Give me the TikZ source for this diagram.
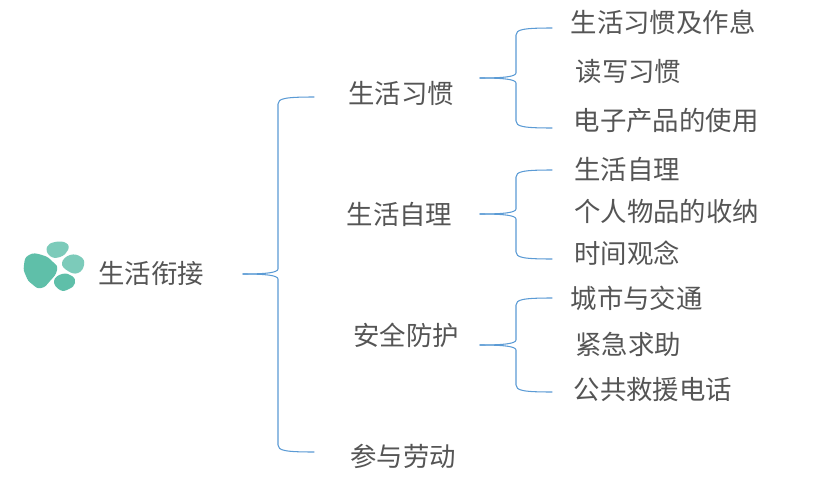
\documentclass[tikz,border=0pt]{standalone}
\usepackage{fontspec}
\setmainfont{Noto Sans CJK SC}
\usetikzlibrary{calc}
\definecolor{txt}{HTML}{555555}
\definecolor{link}{HTML}{5B9BD5}
\definecolor{blob}{HTML}{5FBFA9}
\definecolor{bloblight}{HTML}{7CCBBA}
\tikzset{
  label/.style={anchor=base west,inner sep=0pt,text=txt,font=\fontsize{26.4}{30}\selectfont},
  conn/.style={draw=link,line width=1.05pt,line cap=round},
}
% stem point #1, branch end #2, spine offset #3
\newcommand{\branchto}[3]{%
  \draw[conn] let \p1=(#1),\p2=(#2),\n1={\x1+#3},\n2={(\y2>\y1?1:-1)} in
    (#1) .. controls (\x1+#3*0.7,\y1) and (\n1-0.5pt,\y1+\n2*1.5pt) .. (\n1,\y1+\n2*5pt)
    -- (\n1,\y2-\n2*7pt)
    .. controls (\n1,\y2-\n2*1.5pt) and (\n1+#3*0.2,\y2) .. (#2);}
\begin{document}
\begin{tikzpicture}[x=1pt,y=-1pt]
\useasboundingbox[fill=white] (0,0) rectangle (814,493);
% icon
\fill[blob] plot[smooth cycle,tension=0.9] coordinates {(24,265) (29,255) (42,255) (53,262) (57,270) (50,281) (41,288) (32,284) (26,276)};
\fill[bloblight] plot[smooth cycle,tension=0.8] coordinates {(47,247) (55,242) (66,243) (68,250) (60,257) (50,256)};
\fill[bloblight] plot[smooth cycle,tension=0.8] coordinates {(62,263) (70,255) (81,257) (84,265) (78,273) (68,271)};
\fill[blob] plot[smooth cycle,tension=0.8] coordinates {(54,281) (62,274) (72,276) (75,283) (69,289) (60,290)};
% texts
\node[label] (root) at (98,283) {生活衔接};
\node[label] (a) at (348,103) {生活习惯};
\node[label] (b) at (346.5,224) {生活自理};
\node[label] (c) at (353,345) {安全防护};
\node[label] (d) at (350,466) {参与劳动};
\node[label] (a1) at (570.5,32) {生活习惯及作息};
\node[label] (a2) at (575.5,81) {读写习惯};
\node[label] (a3) at (573.5,130) {电子产品的使用};
\node[label] (b1) at (574,179) {生活自理};
\node[label] (b2) at (574,221) {个人物品的收纳};
\node[label] (b3) at (574,263) {时间观念};
\node[label] (c1) at (570.5,308) {城市与交通};
\node[label] (c2) at (575,354) {紧急求助};
\node[label] (c3) at (573.5,399) {公共救援电话};
% connector ends
\coordinate (rootout) at (243,274);
\coordinate (ain) at (314,97);
\coordinate (dline) at (314,452);
\coordinate (aout) at (480,78);
\coordinate (a1in) at (552,28);
\coordinate (a3in) at (552,128);
\coordinate (bout) at (480,214);
\coordinate (b1in) at (552,170);
\coordinate (b3in) at (552,259);
\coordinate (cout) at (480,345);
\coordinate (c1in) at (552,298);
\coordinate (c3in) at (552,392);
\branchto{rootout}{ain}{35}
\branchto{rootout}{dline}{35}
\branchto{aout}{a1in}{36}
\branchto{aout}{a3in}{36}
\branchto{bout}{b1in}{36}
\branchto{bout}{b3in}{36}
\branchto{cout}{c1in}{36}
\branchto{cout}{c3in}{36}
\end{tikzpicture}
\end{document}
